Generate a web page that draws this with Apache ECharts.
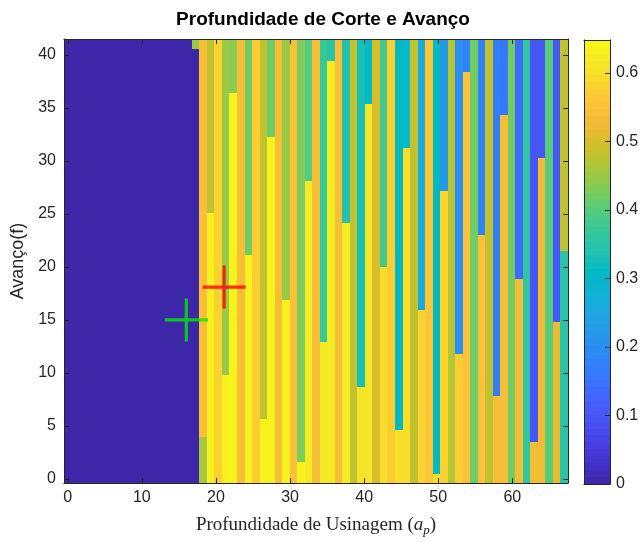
<!DOCTYPE html>
<html>
<head>
<meta charset="utf-8">
<script src="https://cdn.jsdelivr.net/npm/echarts@6/dist/echarts.min.js"></script>
<style>
  html, body { margin: 0; padding: 0; background: #ffffff; }
  #chart { width: 643px; height: 542px; }
</style>
</head>
<body>
<div id="chart"></div>
<script>
// Cutting depth (a_p) columns: 67 columns spread evenly over 0..67.
const depthMin = 0;
const depthMax = 67;
const columnCount = 67;

// Per column: value below the split feed, value above it, and the feed where it changes.
const lowerValue = [
  0, 0, 0, 0, 0, 0, 0, 0, 0, 0, 0, 0, 0, 0, 0, 0, 0, 0,
  0.46, 0.63, 0.58, 0.63, 0.635, 0.54, 0.63, 0.57, 0.63, 0.63,
  0.54, 0.63, 0.55, 0.63, 0.62, 0.54, 0.62, 0.62, 0.54, 0.62,
  0.48, 0.61, 0.61, 0.50, 0.60, 0.57, 0.60, 0.60, 0.48, 0.58,
  0.56, 0.60, 0.58, 0.47, 0.57, 0.55, 0.42, 0.55, 0.48, 0.54,
  0.54, 0.42, 0.53, 0.36, 0.53, 0.53, 0.40, 0.52, 0.35
];
const upperValue = [
  0, 0, 0, 0, 0, 0, 0, 0, 0, 0, 0, 0, 0, 0, 0, 0, 0, 0.45,
  0.54, 0.48, 0.58, 0.45, 0.44, 0.54, 0.42, 0.57, 0.48, 0.42,
  0.54, 0.45, 0.55, 0.43, 0.40, 0.54, 0.37, 0.35, 0.54, 0.34,
  0.48, 0.33, 0.31, 0.50, 0.38, 0.57, 0.31, 0.30, 0.48, 0.26,
  0.56, 0.31, 0.22, 0.47, 0.20, 0.18, 0.42, 0.18, 0.48, 0.17,
  0.16, 0.42, 0.14, 0.36, 0.10, 0.10, 0.40, 0.10, 0.48
];
const splitFeed = [
  41.5, 41.5, 41.5, 41.5, 41.5, 41.5, 41.5, 41.5, 41.5, 41.5, 41.5, 41.5, 41.5, 41.5, 41.5, 41.5, 41.5, 40.6,
  4.0, 25.1, 41.5, 9.8, 36.4, 41.5, 21.1, 41.5, 5.7, 32.3,
  41.5, 16.9, 41.5, 1.6, 28.1, 41.5, 12.9, 39.4, 41.5, 24.1,
  41.5, 8.7, 35.4, 41.5, 20.0, 41.5, 4.6, 31.2, 41.5, 15.9,
  41.5, 0.5, 27.2, 41.5, 11.8, 38.4, 41.5, 23.0, 41.5, 7.8,
  34.3, 41.5, 18.9, 41.5, 3.5, 30.3, 41.5, 14.8, 21.5
];

// Marked points (a_p, f)
const startPoint = [16.0, 15.0];
const bestPoint = [21.1, 18.1];

const feedMin = -0.38;
const feedMax = 41.5;
const colorMax = 0.648;
const xTicks = [0, 10, 20, 30, 40, 50, 60];
const yTicks = [0, 5, 10, 15, 20, 25, 30, 35, 40];
const cbTicks = [0, 0.1, 0.2, 0.3, 0.4, 0.5, 0.6];

// parula colour map
const parula = [
  'rgb(62,38,168)', 'rgb(67,50,203)', 'rgb(71,65,229)', 'rgb(72,82,244)',
  'rgb(69,99,253)', 'rgb(56,117,254)', 'rgb(46,135,247)', 'rgb(39,150,235)',
  'rgb(32,165,227)', 'rgb(18,177,214)', 'rgb(2,186,195)', 'rgb(36,193,174)',
  'rgb(55,200,151)', 'rgb(87,204,122)', 'rgb(129,204,89)', 'rgb(171,199,57)',
  'rgb(209,191,39)', 'rgb(240,186,54)', 'rgb(254,195,56)', 'rgb(250,214,45)',
  'rgb(245,233,36)', 'rgb(249,251,21)'
];

const step = (depthMax - depthMin) / (columnCount - 1);
const halfW = step / 2;

// Build the cell rectangles: [a_p, f from, f to, value]
const cells = [];
for (let k = 0; k < columnCount; k++) {
  const x = depthMin + k * step;
  const s = splitFeed[k];
  if (s > feedMin) cells.push([x, feedMin, Math.min(s, feedMax), lowerValue[k]]);
  if (s < feedMax) cells.push([x, s, feedMax, upperValue[k]]);
}

// Colour bar bands
const bandCount = 64;
const bands = [];
for (let i = 0; i < bandCount; i++) {
  const lo = colorMax * i / bandCount;
  const hi = colorMax * (i + 1) / bandCount;
  bands.push([0, lo, hi, (lo + hi) / 2]);
}

const axisColor = '#262626';
const sans = '"Liberation Sans", Arial, Helvetica, sans-serif';
const serif = '"Liberation Serif", "Times New Roman", serif';

// Pixel-snapped rectangle so neighbouring cells meet without seams
function snappedRect(p0, p1, clip) {
  let x0 = Math.round(Math.max(p0[0], clip.x));
  let x1 = Math.round(Math.min(p1[0], clip.x + clip.width));
  let y0 = Math.round(Math.max(p0[1], clip.y));
  let y1 = Math.round(Math.min(p1[1], clip.y + clip.height));
  if (x1 <= x0 || y1 <= y0) return null;
  return { x: x0, y: y0, width: x1 - x0, height: y1 - y0 };
}

function renderCell(params, api) {
  const x = api.value(0);
  const p0 = api.coord([x - halfW, api.value(2)]);
  const p1 = api.coord([x + halfW, api.value(1)]);
  const rect = snappedRect(p0, p1, params.coordSys);
  if (!rect) return;
  return { type: 'rect', shape: rect, style: { fill: api.visual('color') } };
}

function renderBand(params, api) {
  const p0 = api.coord([0, api.value(2)]);
  const p1 = api.coord([1, api.value(1)]);
  const rect = snappedRect(p0, p1, params.coordSys);
  if (!rect) return;
  return { type: 'rect', shape: rect, style: { fill: api.visual('color') } };
}

function plusSymbol() {
  return 'path://M-1.6,-21.5 H1.6 V-1.6 H21.5 V1.6 H1.6 V21.5 H-1.6 V1.6 H-21.5 V-1.6 H-1.6 Z';
}

const tickStyle = { show: true, inside: true, length: 5, lineStyle: { color: axisColor, width: 1 } };
const lineStyle = { show: true, onZero: false, lineStyle: { color: axisColor, width: 1 } };

const chart = echarts.init(document.getElementById('chart'), null, { renderer: 'canvas' });
chart.setOption({
  animation: false,
  backgroundColor: '#ffffff',
  title: {
    text: 'Profundidade de Corte e Avanço',
    left: 318,
    top: 5,
    textAlign: 'center',
    textStyle: { fontFamily: sans, fontWeight: 'bold', fontSize: 19, color: '#000000' }
  },
  grid: [
    { left: 64, top: 39, width: 504, height: 444, containLabel: false, outerBoundsMode: 'none' },
    { left: 584, top: 40, width: 26, height: 444, containLabel: false, outerBoundsMode: 'none' }
  ],
  visualMap: {
    show: false,
    type: 'continuous',
    min: 0,
    max: colorMax,
    dimension: 3,
    seriesIndex: [0, 1],
    inRange: { color: parula }
  },
  xAxis: [
    {
      type: 'value', gridIndex: 0, min: depthMin - halfW, max: depthMax + halfW, z: 10,
      axisLine: lineStyle, axisTick: Object.assign({ customValues: xTicks }, tickStyle),
      splitLine: { show: false },
      axisLabel: { customValues: xTicks, fontFamily: sans, fontSize: 16, color: axisColor, margin: 7 },
      name: '{t|Profundidade de Usinagem }{t|(}{a|a}{p|p}{t|)}',
      nameLocation: 'middle', nameGap: 30,
      nameTextStyle: {
        rich: {
          t: { fontFamily: serif, fontSize: 19, color: axisColor, lineHeight: 24 },
          a: { fontFamily: serif, fontStyle: 'italic', fontSize: 19, color: axisColor, lineHeight: 24 },
          p: { fontFamily: serif, fontStyle: 'italic', fontSize: 13, color: axisColor, lineHeight: 13, verticalAlign: 'bottom' }
        }
      }
    },
    {
      type: 'value', gridIndex: 0, position: 'top', min: depthMin - halfW, max: depthMax + halfW, z: 10,
      axisLine: lineStyle, axisTick: Object.assign({ customValues: xTicks }, tickStyle),
      axisLabel: { show: false }, splitLine: { show: false }
    },
    {
      type: 'value', gridIndex: 1, min: 0, max: 1, z: 10,
      axisLine: lineStyle, axisTick: { show: false }, axisLabel: { show: false }, splitLine: { show: false }
    },
    {
      type: 'value', gridIndex: 1, position: 'top', min: 0, max: 1, z: 10,
      axisLine: lineStyle, axisTick: { show: false }, axisLabel: { show: false }, splitLine: { show: false }
    }
  ],
  yAxis: [
    {
      type: 'value', gridIndex: 0, min: feedMin, max: feedMax, z: 10,
      axisLine: lineStyle, axisTick: Object.assign({ customValues: yTicks }, tickStyle),
      splitLine: { show: false },
      axisLabel: { customValues: yTicks, fontFamily: sans, fontSize: 16, color: axisColor, margin: 8 },
      name: 'Avanço(f)', nameLocation: 'middle', nameGap: 25, nameRotate: 90,
      nameTextStyle: { fontFamily: sans, fontSize: 18, color: axisColor }
    },
    {
      type: 'value', gridIndex: 0, position: 'right', min: feedMin, max: feedMax, z: 10,
      axisLine: lineStyle, axisTick: Object.assign({ customValues: yTicks }, tickStyle),
      axisLabel: { show: false }, splitLine: { show: false }
    },
    {
      type: 'value', gridIndex: 1, position: 'left', min: 0, max: colorMax, z: 10,
      axisLine: lineStyle, axisTick: { show: false }, axisLabel: { show: false }, splitLine: { show: false }
    },
    {
      type: 'value', gridIndex: 1, position: 'right', min: 0, max: colorMax, z: 10,
      axisLine: lineStyle, axisTick: Object.assign({ customValues: cbTicks }, tickStyle),
      splitLine: { show: false },
      axisLabel: { customValues: cbTicks, fontFamily: sans, fontSize: 16, color: axisColor, margin: 6 }
    }
  ],
  series: [
    {
      type: 'custom', xAxisIndex: 0, yAxisIndex: 0,
      renderItem: renderCell, data: cells,
      encode: { x: 0, y: [1, 2] }, z: 2, silent: true
    },
    {
      type: 'custom', xAxisIndex: 2, yAxisIndex: 2,
      renderItem: renderBand, data: bands,
      encode: { y: [1, 2] }, z: 2, silent: true
    },
    {
      type: 'scatter', xAxisIndex: 0, yAxisIndex: 0, z: 5, silent: true,
      symbol: plusSymbol(), symbolSize: 43,
      itemStyle: { color: '#00ee00' },
      data: [startPoint]
    },
    {
      type: 'scatter', xAxisIndex: 0, yAxisIndex: 0, z: 5, silent: true,
      symbol: plusSymbol(), symbolSize: 43,
      itemStyle: { color: '#ff0000' },
      data: [bestPoint]
    }
  ]
});
</script>
</body>
</html>
